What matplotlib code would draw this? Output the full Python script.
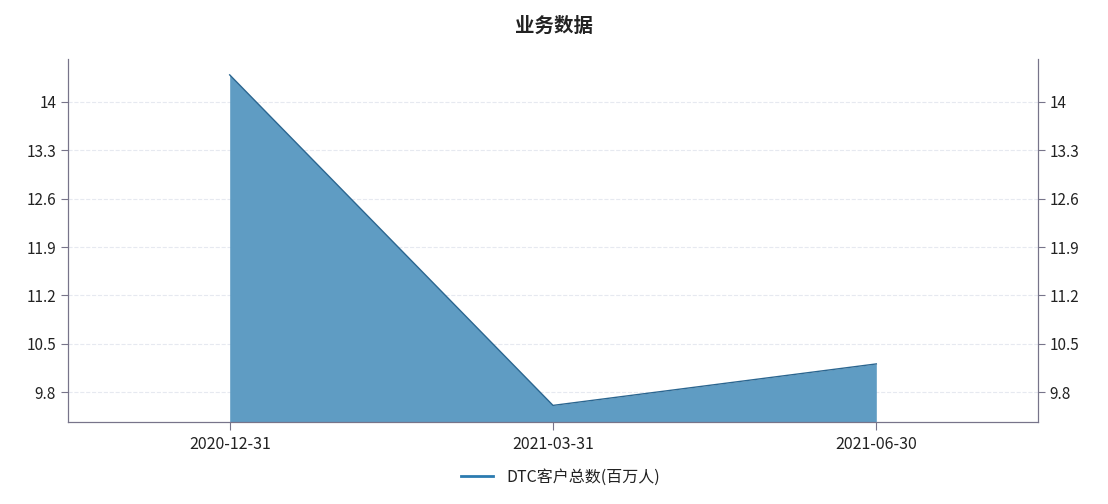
import matplotlib
matplotlib.use('Agg')
import matplotlib.pyplot as plt
from matplotlib.lines import Line2D

plt.rcParams['font.family'] = ['Noto Sans CJK SC', 'DejaVu Sans']

# data
dates = ['2020-12-31', '2021-03-31', '2021-06-30']
dtc_users = [14.39, 9.61, 10.21]
y_ticks = [9.8, 10.5, 11.2, 11.9, 12.6, 13.3, 14]
y_labels = ['9.8', '10.5', '11.2', '11.9', '12.6', '13.3', '14']

ymin, ymax = 9.37, 14.62
axis_col = '#77748a'
text_col = '#222222'

fig = plt.figure(figsize=(11.08, 5.04), dpi=100)
ax = fig.add_axes([0.0614, 0.1627, 0.8754, 0.7203])
x = list(range(len(dates)))

ax.fill_between(x, dtc_users, ymin, color='#5f9cc3', linewidth=0, zorder=2)
ax.plot(x, dtc_users, color='#2b6690', linewidth=1.0, zorder=3)

ax.set_xlim(-0.5, len(dates) - 0.5)
ax.set_ylim(ymin, ymax)
ax.set_xticks(x)
ax.set_xticklabels(dates)
ax.set_yticks(y_ticks)
ax.set_yticklabels(y_labels)
ax.grid(axis='y', color='#e6e9f0', linestyle='--', linewidth=0.8, zorder=1)

ax2 = ax.twinx()
ax2.set_ylim(ymin, ymax)
ax2.set_yticks(y_ticks)
ax2.set_yticklabels(y_labels)

for a in (ax, ax2):
    a.spines['top'].set_visible(False)
    for s in ('left', 'right', 'bottom'):
        a.spines[s].set_color(axis_col)
        a.spines[s].set_linewidth(0.8)
    a.tick_params(colors=axis_col, labelcolor=text_col, labelsize=11, length=5, width=0.8)
ax.tick_params(axis='x', length=6, pad=4, labelsize=11.5)

fig.text(0.5, 0.948, '业务数据', ha='center', va='center', fontsize=14,
         fontweight='bold', color=text_col)

handle = Line2D([0], [0], color='#2b7bb0', linewidth=2)
fig.legend([handle], ['DTC客户总数(百万人)'], loc='center', bbox_to_anchor=(0.506, 0.053),
           frameon=False, fontsize=11.5, handlelength=2.0, labelcolor=text_col)

fig.savefig('out.png', dpi=100, facecolor='white')
